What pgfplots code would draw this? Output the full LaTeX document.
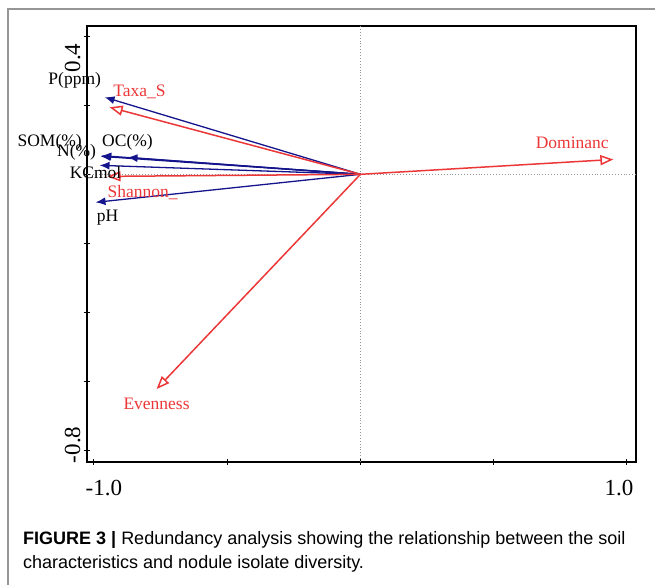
\documentclass[border=0pt]{standalone}
\usepackage{pgfplots}
\pgfplotsset{compat=1.18}
\usepackage{fontspec}
\setmainfont{Liberation Serif}
\newfontfamily\capfont{Liberation Sans}
\usetikzlibrary{arrows.meta}
\definecolor{vecblue}{RGB}{20,20,140}
\definecolor{vecred}{RGB}{235,55,55}
\definecolor{framegray}{RGB}{150,150,150}
\tikzset{
  blue vec/.style={vecblue, line width=1.3pt, -{Latex[length=10pt,width=8pt]}},
  red vec/.style={vecred, line width=1.5pt, -{Triangle[open,length=13pt,width=10pt]}},
  lbl/.style={font=\fontsize{17.5}{20}\selectfont, inner sep=0pt},
}
\begin{document}
\begin{tikzpicture}[x=1pt,y=1pt]
\path[use as bounding box] (0,0) rectangle (655,585);
% outer figure frame
\draw[framegray, line width=1.5pt] (8,0) -- (8,576) -- (655,576);
\begin{axis}[
    at={(87pt,123pt)}, anchor=south west,
    scale only axis, width=549pt, height=436pt,
    xmin=-1.026, xmax=1.034, ymin=-0.832, ymax=0.429,
    clip=false,
    axis line style={line width=1.3pt},
    tick pos=left, tick align=center,
    major tick length=6pt,
    tick style={line width=0.9pt, black},
    xtick={-1,-0.5,0,0.5,1},
    xticklabels={\rule{20pt}{0pt}-1.0,,,,1.0\rule{16pt}{0pt}},
    ytick={-0.8,-0.6,-0.4,-0.2,0,0.2,0.4},
    yticklabels={\rule{34pt}{0pt}-0.8,,,,,,0.4\rule{22pt}{0pt}},
    ticklabel style={font=\fontsize{23}{26}\selectfont},
    xticklabel style={yshift=-12pt},
    yticklabel style={rotate=90, anchor=south, xshift=-11pt},
]
% reference lines through the origin
\addplot[framegray, dotted, line width=0.9pt] coordinates {(0,-0.832) (0,0.429)};
\addplot[framegray, dotted, line width=0.9pt] coordinates {(-1.026,0) (1.034,0)};
% soil variables
\addplot[blue vec] coordinates {(0,0) (-0.960,0.223)};
\addplot[blue vec] coordinates {(0,0) (-0.975,0.052)};
\addplot[blue vec] coordinates {(0,0) (-0.972,0.054)};
\addplot[blue vec] coordinates {(0,0) (-0.874,0.049)};
\addplot[blue vec] coordinates {(0,0) (-0.979,0.026)};
\addplot[blue vec] coordinates {(0,0) (-0.994,-0.081)};
% diversity indices
\addplot[red vec] coordinates {(0,0) (-0.941,0.194)};
\addplot[red vec] coordinates {(0,0) (-0.949,-0.006)};
\addplot[red vec] coordinates {(0,0) (0.949,0.043)};
\addplot[red vec] coordinates {(0,0) (-0.765,-0.621)};
% labels
\node[lbl, black] at (axis cs:-1.072,0.273) {P(ppm)};
\node[lbl, black] at (axis cs:-1.166,0.093) {SOM(\%)};
\node[lbl, black] at (axis cs:-1.065,0.064) {N(\%)};
\node[lbl, black] at (axis cs:-0.874,0.093) {OC(\%)};
\node[lbl, black] at (axis cs:-0.994,0.004) {KCmol};
\node[lbl, black] at (axis cs:-0.949,-0.126) {pH};
\node[lbl, vecred] at (axis cs:-0.829,0.238) {Taxa\_S};
\node[lbl, vecred] at (axis cs:-0.817,-0.054) {Shannon\_};
\node[lbl, vecred] at (axis cs:0.795,0.090) {Dominanc};
\node[lbl, vecred] at (axis cs:-0.765,-0.664) {Evenness};
\end{axis}
% caption
\node[anchor=base west, inner sep=0pt, font=\capfont\fontsize{18}{24}\selectfont] at (23,40)
  {\textbf{FIGURE 3 |} Redundancy analysis showing the relationship between the soil};
\node[anchor=base west, inner sep=0pt, font=\capfont\fontsize{18}{24}\selectfont] at (23,16)
  {characteristics and nodule isolate diversity.};
\end{tikzpicture}
\end{document}
